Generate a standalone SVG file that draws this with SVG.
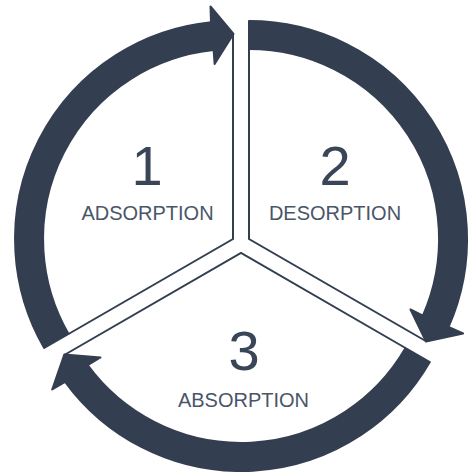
<svg xmlns="http://www.w3.org/2000/svg" width="476" height="472" viewBox="0 0 476 472">
<style>
.band{fill:#333f50;stroke:#333f50;stroke-width:2;stroke-linejoin:round}
.edge{fill:none;stroke:#333f50;stroke-width:2;stroke-linejoin:miter}
.num{font-family:"Liberation Sans",Arial,sans-serif;font-size:56px;fill:#3a4657;text-anchor:middle}
.lbl{font-family:"Liberation Sans",Arial,sans-serif;font-size:20px;fill:#4a5568;text-anchor:middle}
</style>
<rect width="476" height="472" fill="#ffffff"/>
<g id="connectors">
<path class="band" d="M44.2 348 A218 218 0 0 1 211 22.2 L210.5 6.5 L233.5 34 L214.6 64 L213.6 50 A190 190 0 0 0 68.5 334 Z"/>
<path class="band" d="M249 21 A218 218 0 0 1 448.5 327 L463.1 333.4 L426 341.5 L410.5 309.5 L422.9 315.7 A190 190 0 0 0 249 49 Z"/>
<path class="band" d="M429.8 362 A218 218 0 0 1 65.1 381.8 L52.2 389.5 L64.3 354.5 L100.5 357.5 L87.7 365.2 A190 190 0 0 0 405.5 348 Z"/>
</g>
<g id="node1">
<path class="edge" d="M233 35 L233 239 L68.5 334"/>
<text class="num" x="147" y="185">1</text>
<text class="lbl" x="147.5" y="220">ADSORPTION</text>
</g>
<g id="node2">
<path class="edge" d="M249 49 L249 239 L425.7 341"/>
<text class="num" x="335" y="185">2</text>
<text class="lbl" x="335" y="220">DESORPTION</text>
</g>
<g id="node3">
<path class="edge" d="M405.5 348 L241 253 L64.3 355"/>
<text class="num" x="244" y="370">3</text>
<text class="lbl" x="243.5" y="407">ABSORPTION</text>
</g>
</svg>
